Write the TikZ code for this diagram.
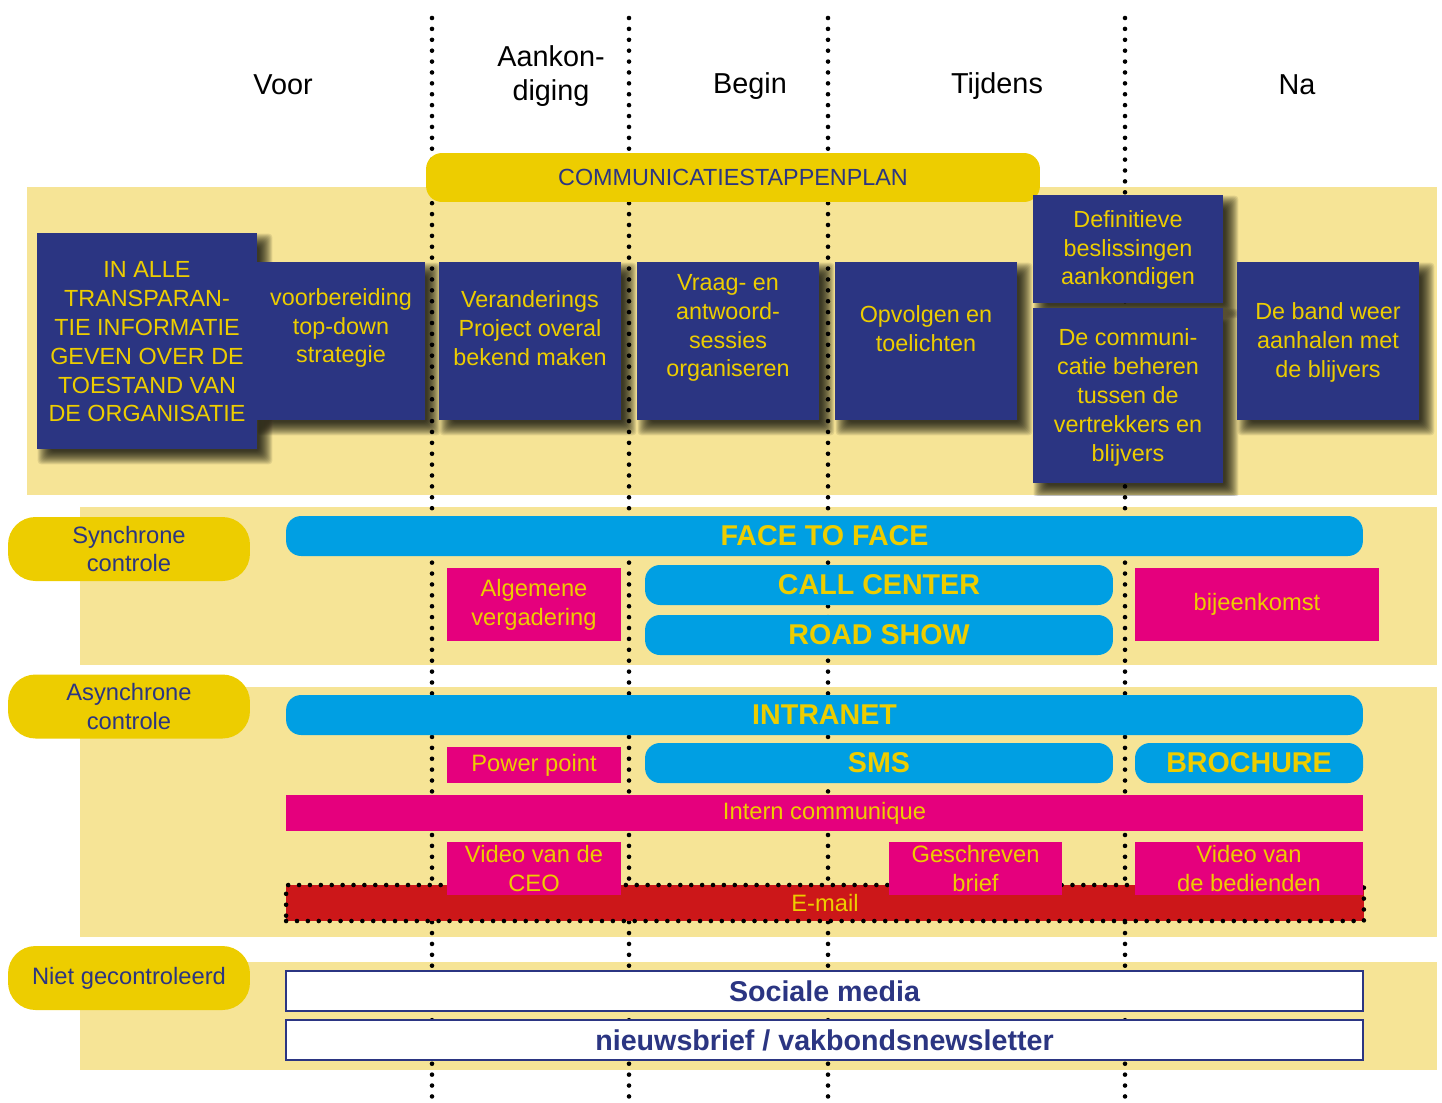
\documentclass[tikz,border=0pt]{standalone}
\usepackage{fontspec}
\setmainfont{Liberation Sans}
\definecolor{navy}{RGB}{43,53,130}
\definecolor{gold}{RGB}{237,205,0}
\definecolor{sand}{RGB}{246,228,150}
\definecolor{sky}{RGB}{0,159,227}
\definecolor{pink}{RGB}{229,0,125}
\definecolor{brick}{RGB}{204,23,25}
\pgfdeclarelayer{background}
\pgfdeclarelayer{shade}
\pgfsetlayers{background,shade,main}
\newcommand\boxshade[1]{%
  \begin{pgfonlayer}{shade}
  \begin{scope}
  \clip (27,187) rectangle (1437,495);
  \foreach \e in {7,6,...,-6}
    \fill[black,opacity=0.09,rounded corners=2pt]
      ([shift={(8-\e,8-\e)}]#1.north west) rectangle ([shift={(8+\e,8+\e)}]#1.south east);
  \end{scope}
  \end{pgfonlayer}}
\begin{document}
\begin{tikzpicture}[x=0.02cm,y=-0.02cm,
    phase/.style={align=center,font=\fontsize{16.4}{19.8}\selectfont},
    stepbox/.style={fill=navy,inner sep=0pt},
    boxtext/.style={text=gold,align=center,font=\fontsize{13.3}{16.4}\selectfont},
    pill/.style={fill=gold,rounded corners=0.55cm,text=navy,align=center,inner sep=0pt,
      minimum width=4.84cm,minimum height=1.28cm,font=\fontsize{13.5}{16.4}\selectfont},
    bar/.style={fill=sky,rounded corners=0.3cm,text=gold,inner sep=0pt,minimum height=0.8cm,
      font=\bfseries\fontsize{16.3}{19}\selectfont},
    tag/.style={fill=pink,text=gold,align=center,inner sep=0pt,
      font=\fontsize{13.5}{16.4}\selectfont},
    media/.style={draw=navy,line width=0.8pt,fill=white,text=navy,inner sep=0pt,
      minimum width=21.54cm,minimum height=0.8cm,font=\bfseries\fontsize{16.3}{19}\selectfont},
    dots/.style={line width=2.6pt,line cap=round,dash pattern=on 0pt off 6.2pt}]
\useasboundingbox (0,0) rectangle (1442,1102);
% bands and phase lines
\begin{pgfonlayer}{background}
\fill[sand] (27,187) rectangle (1437,495);
\fill[sand] (80,507) rectangle (1437,665);
\fill[sand] (80,687) rectangle (1437,937);
\fill[sand] (80,962) rectangle (1437,1070);
\foreach \x in {432,629,828,1125}
  \draw[dots] (\x,18) -- (\x,1102);
\end{pgfonlayer}

\node[phase] (voor) at (283,85) {Voor};
\node[phase] (aank) at (551,76) {Aankon-\\diging};
\node[phase] (begin) at (750,86) {Begin};
\node[phase] (tijdens) at (997,86) {Tijdens};
\node[phase] (na) at (1297,85) {Na};

\node[fill=gold,rounded corners=0.32cm,text=navy,inner sep=0pt,minimum width=12.28cm,minimum height=0.98cm,
  font=\fontsize{13.3}{16}\selectfont] (plan) at (733,177.5) {COMMUNICATIESTAPPENPLAN};

\node[stepbox,minimum width=4.4cm,minimum height=4.32cm] (b1) at (147,341) {};
\node[stepbox,minimum width=3.36cm,minimum height=3.16cm] (b2) at (341,341) {};
\node[stepbox,minimum width=3.64cm,minimum height=3.16cm] (b3) at (530,341) {};
\node[stepbox,minimum width=3.64cm,minimum height=3.16cm] (b4) at (728,341) {};
\node[stepbox,minimum width=3.64cm,minimum height=3.16cm] (b5) at (926,341) {};
\node[stepbox,minimum width=3.8cm,minimum height=2.16cm] (b6) at (1128,249) {};
\node[stepbox,minimum width=3.8cm,minimum height=3.5cm] (b7) at (1128,395.5) {};
\node[stepbox,minimum width=3.64cm,minimum height=3.16cm] (b8) at (1328,341) {};
\foreach \b in {b1,b2,b3,b4,b5,b6,b7,b8}
  \boxshade{\b};
\node[boxtext] (t1) at (147,342) {IN ALLE\\TRANSPARAN-\\TIE INFORMATIE\\GEVEN OVER DE\\TOESTAND VAN\\DE ORGANISATIE};
\node[boxtext] (t2) at (341,328) {voorbereiding\\top-down\\strategie};
\node[boxtext] (t3) at (530,328) {Veranderings\\Project overal\\bekend maken};
\node[boxtext] (t4) at (728,328) {Vraag- en\\antwoord-\\sessies\\organiseren};
\node[boxtext] (t5) at (926,328.5) {Opvolgen en\\toelichten};
\node[boxtext] (t6) at (1128,250) {Definitieve\\beslissingen\\aankondigen};
\node[boxtext] (t7) at (1128,397.5) {De communi-\\catie beheren\\tussen de\\vertrekkers en\\blijvers};
\node[boxtext] (t8) at (1328,342.5) {De band weer\\aanhalen met\\de blijvers};

\node[pill] (sync) at (129,549) {Synchrone\\controle};
\node[pill] (async) at (129,706.5) {Asynchrone\\controle};
\node[pill] (niet) at (129,978) {Niet gecontroleerd};

\node[bar,minimum width=21.54cm] (face) at (824.5,536) {FACE TO FACE};
\node[bar,minimum width=9.36cm] (call) at (879,585) {CALL CENTER};
\node[bar,minimum width=9.36cm] (road) at (879,635) {ROAD SHOW};
\node[tag,minimum width=3.48cm,minimum height=1.46cm] (alg) at (534,604.5) {Algemene\\vergadering};
\node[tag,minimum width=4.88cm,minimum height=1.46cm] (bij) at (1257,604.5) {bijeenkomst};

\node[bar,minimum width=21.54cm] (intra) at (824.5,715) {INTRANET};
\node[bar,minimum width=9.36cm] (sms) at (879,763) {SMS};
\node[bar,minimum width=4.56cm] (broch) at (1249,763) {BROCHURE};
\node[tag,minimum width=3.48cm,minimum height=0.72cm] (pp) at (534,765) {Power point};
\node[tag,minimum width=21.54cm,minimum height=0.72cm] (intern) at (824.5,813) {Intern communique};
\node[fill=brick,text=gold,inner sep=0pt,minimum width=21.56cm,minimum height=0.72cm,
  font=\fontsize{13.5}{16.4}\selectfont,draw=black,line width=2.6pt,line cap=round,
  dash pattern=on 0pt off 6.2pt] (mail) at (825,903) {E-mail};
\node[tag,minimum width=3.48cm,minimum height=1.06cm] (vceo) at (534,868.5) {Video van de\\CEO};
\node[tag,minimum width=3.46cm,minimum height=1.06cm] (brief) at (975.5,868.5) {Geschreven\\brief};
\node[tag,minimum width=4.56cm,minimum height=1.06cm] (vbed) at (1249,868.5) {Video van\\de bedienden};

\node[media] (soc) at (824.5,991) {Sociale media};
\node[media] (nieuws) at (824.5,1040) {nieuwsbrief / vakbondsnewsletter};
\end{tikzpicture}
\end{document}
